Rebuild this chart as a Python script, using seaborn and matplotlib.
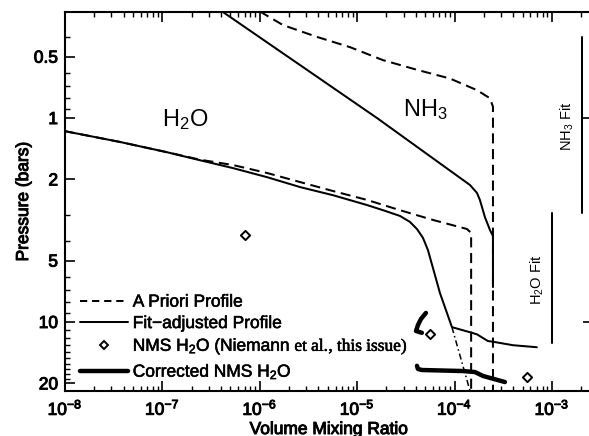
import matplotlib
matplotlib.use("Agg")
import matplotlib.pyplot as plt
import matplotlib.patheffects as pe
from matplotlib.lines import Line2D
from matplotlib.ticker import (FixedLocator, FixedFormatter, LogLocator,
                               LogFormatterSciNotation, NullFormatter, NullLocator)
import seaborn as sns

# ---- H2O profiles: volume mixing ratio vs pressure (bars) ----
h2o_fit_vmr = [1.0e-8, 3.67e-8, 1.11e-7, 2.43e-7, 5.31e-7, 1.19e-6, 2.59e-6, 5.65e-6,
               1.26e-5, 1.84e-5, 2.75e-5, 3.48e-5, 4.11e-5, 4.74e-5, 5.33e-5, 7.08e-5,
               9.4e-5, 1.51e-4, 1.70e-4, 2.20e-4, 2.48e-4, 3.98e-4, 7.0e-4]
h2o_fit_p = [1.16, 1.31, 1.47, 1.61, 1.76, 1.95, 2.18, 2.39,
             2.67, 2.83, 3.02, 3.23, 3.50, 3.87, 4.44, 7.21,
             10.6, 11.3, 11.5, 12.4, 12.5, 13.0, 13.3]
h2o_deep_vmr = [9.4e-5, 1.45e-4]
h2o_deep_p = [10.6, 22.0]

h2o_apriori_vmr = [1.0e-8, 3.67e-8, 1.11e-7, 2.43e-7, 5.31e-7, 1.19e-6, 2.59e-6, 5.65e-6,
                   1.26e-5, 2.75e-5, 6.0e-5, 1.34e-4, 1.48e-4, 1.48e-4]
h2o_apriori_p = [1.16, 1.31, 1.47, 1.60, 1.70, 1.86, 2.06, 2.28,
                 2.52, 2.83, 3.16, 3.50, 3.66, 25.0]

# ---- NH3 profiles ----
nh3_apriori_vmr = [1.0e-6, 1.73e-6, 3.86e-6, 8.43e-6, 1.84e-5, 4.11e-5, 8.97e-5,
                   1.70e-4, 2.31e-4, 2.48e-4, 2.48e-4]
nh3_apriori_p = [0.30, 0.35, 0.40, 0.449, 0.52, 0.58, 0.64, 0.73, 0.80, 0.88, 25.0]

nh3_fit_vmr = [4.1e-7, 1.6e-5, 1.44e-4, 1.70e-4, 1.82e-4, 2.05e-4, 2.31e-4, 2.48e-4, 2.48e-4]
nh3_fit_p = [0.30, 1.0, 2.13, 2.33, 2.52, 3.06, 3.54, 3.79, 6.74]

# ---- NMS H2O measurements ----
nms_vmr = [7.05e-7, 5.58e-5, 5.53e-4]
nms_p = [3.74, 11.5, 18.6]

corr_a_vmr = [5.08e-5, 4.52e-5, 4.21e-5, 4.02e-5, 4.62e-5]
corr_a_p = [9.03, 9.67, 10.35, 11.07, 11.3]
corr_b_vmr = [4.11e-5, 4.21e-5, 4.62e-5, 1.22e-4, 1.62e-4, 1.96e-4, 3.29e-4]
corr_b_p = [16.4, 17.0, 17.2, 17.4, 17.6, 18.4, 19.7]

# ---- pressure ranges covered by the fits ----
h2o_range_vmr = [1.0e-3, 1.0e-3]
h2o_range_p = [2.92, 12.7]
nh3_range_vmr = [2.03e-3, 2.03e-3]
nh3_range_p = [0.40, 2.92]

y_ticks = [0.5, 1, 2, 5, 10, 20]
y_tick_labels = ["0.5", "1", "2", "5", "10", "20"]
y_minor = [0.3, 0.4, 0.6, 0.7, 0.8, 0.9, 3, 4, 6, 7, 8, 9,
           11, 12, 13, 14, 15, 16, 17, 18, 19]
right_ticks = [1, 10]

sns.set_theme(style="ticks")
plt.rcParams["font.family"] = ["Liberation Sans", "DejaVu Sans"]
plt.rcParams["text.color"] = "black"
plt.rcParams["axes.labelcolor"] = "black"
plt.rcParams["xtick.color"] = "black"
plt.rcParams["ytick.color"] = "black"
plt.rcParams["mathtext.fontset"] = "custom"
plt.rcParams["mathtext.rm"] = "Liberation Serif"
plt.rcParams["mathtext.it"] = "Liberation Serif:italic"
plt.rcParams["mathtext.bf"] = "Liberation Sans:bold"
plt.rcParams["mathtext.sf"] = "Liberation Sans"

fig = plt.figure(figsize=(5.89, 4.36), dpi=100)
W, H = 589.0, 436.0
ax = fig.add_axes([65 / W, 1 - 391 / H, (593 - 65) / W, (391 - 12) / H])
ax.set_xscale("log")
ax.set_yscale("log")

LW = 1.45
DASH = (0, (5, 2.8))
heavy = [pe.withStroke(linewidth=0.7, foreground="black")]


def trace(x, y, **kw):
    sns.lineplot(x=x, y=y, sort=False, estimator=None, ax=ax, color="black", **kw)


trace(h2o_apriori_vmr, h2o_apriori_p, linewidth=LW, linestyle=DASH)
trace(nh3_apriori_vmr, nh3_apriori_p, linewidth=LW, linestyle=DASH)
trace(h2o_fit_vmr, h2o_fit_p, linewidth=LW)
trace(nh3_fit_vmr, nh3_fit_p, linewidth=LW)
trace(h2o_deep_vmr, h2o_deep_p, linewidth=1.1, linestyle=(0, (4, 2, 1, 2)))
trace(corr_a_vmr, corr_a_p, linewidth=3.2)
trace(corr_b_vmr, corr_b_p, linewidth=3.2)
trace(h2o_range_vmr, h2o_range_p, linewidth=LW)
trace(nh3_range_vmr, nh3_range_p, linewidth=LW)

sns.scatterplot(x=nms_vmr, y=nms_p, ax=ax, marker="D", s=22, facecolor="white",
                edgecolor="black", linewidth=1.4, zorder=5)

ax.set_xlim(1e-8, 2.64e-3)
ax.set_ylim(21.8, 0.302)

# axes ticks
ax.xaxis.set_major_locator(LogLocator(base=10, numticks=12))
ax.xaxis.set_major_formatter(LogFormatterSciNotation())
ax.xaxis.set_minor_locator(LogLocator(base=10, subs=range(2, 10), numticks=12))
ax.xaxis.set_minor_formatter(NullFormatter())
ax.yaxis.set_major_locator(FixedLocator(y_ticks))
ax.yaxis.set_major_formatter(FixedFormatter(y_tick_labels))
ax.yaxis.set_minor_locator(FixedLocator(y_minor))
ax.yaxis.set_minor_formatter(NullFormatter())

ax.tick_params(which="both", direction="in", top=True, right=False, color="black",
               labelsize=12.5, labelcolor="black")
ax.tick_params(which="major", length=7.5, width=1.2, pad=5)
ax.tick_params(which="minor", length=3.8, width=1.0)
for sp in ax.spines.values():
    sp.set_linewidth(1.5)
    sp.set_color("black")
ax.spines["right"].set_visible(False)

# right-hand axis carries only the decade ticks
sec = ax.secondary_yaxis("right")
sec.yaxis.set_major_locator(FixedLocator(right_ticks))
sec.yaxis.set_minor_locator(NullLocator())
sec.tick_params(which="major", direction="in", length=7.5, width=1.2,
                labelright=False, color="black")
sec.spines["right"].set_visible(False)

for lab in ax.get_xticklabels() + ax.get_yticklabels():
    lab.set_path_effects(heavy)

ax.set_xlabel("Volume Mixing Ratio", fontsize=12.5, labelpad=3, path_effects=heavy)
ax.set_ylabel("Pressure (bars)", fontsize=12.5, labelpad=2, path_effects=heavy)

# curve annotations
ax.text(1.71e-7, 1.02, r"H$_\mathdefault{2}$O", fontsize=17, ha="center", va="center")
ax.text(4.97e-5, 0.914, r"NH$_\mathdefault{3}$", fontsize=17, ha="center", va="center")
ax.text(7.18e-4, 6.2, r"H$_\mathdefault{2}$O Fit", fontsize=10.5, rotation=90,
        ha="center", va="center")
ax.text(1.46e-3, 1.1, r"NH$_\mathdefault{3}$ Fit", fontsize=10.5, rotation=90,
        ha="center", va="center")

handles = [
    Line2D([], [], color="black", linewidth=LW, linestyle=(0, (3.6, 2.4))),
    Line2D([], [], color="black", linewidth=LW),
    Line2D([], [], color="black", linestyle="none", marker="D", markersize=4.5,
           markerfacecolor="white", markeredgewidth=1.4),
    Line2D([], [], color="black", linewidth=3.2),
]
labels = [
    "A Priori Profile",
    "Fit\u2212adjusted Profile",
    r"NMS H$_\mathdefault{2}$O (Niemann $\mathrm{et\ al.\!{,}\ this\ issue)}$",
    r"Corrected NMS H$_\mathdefault{2}$O",
]
leg = ax.legend(handles, labels, loc="lower left", bbox_to_anchor=(0.028, 0.026),
                frameon=False, fontsize=12.5, handlelength=2.75, handletextpad=0.3,
                labelspacing=0.36, borderpad=0, borderaxespad=0)
for t in leg.get_texts():
    t.set_path_effects([pe.withStroke(linewidth=0.4, foreground="black")])

fig.savefig("out.png", dpi=100)
